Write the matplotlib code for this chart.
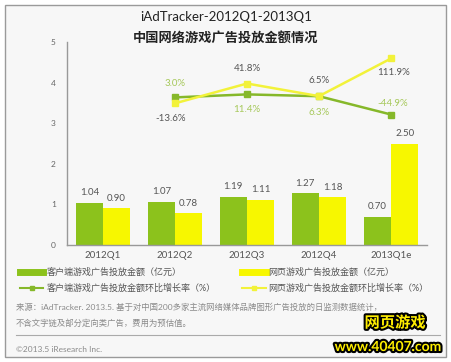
import matplotlib
matplotlib.use("Agg")
import matplotlib.pyplot as plt
import numpy as np
from matplotlib.lines import Line2D
from matplotlib.patches import Rectangle
import matplotlib.patheffects as pe

plt.rcParams['font.family'] = ['Lato', 'Noto Sans CJK SC', 'DejaVu Sans']

categories = ["2012Q1", "2012Q2", "2012Q3", "2012Q4", "2013Q1e"]
client_amt = [1.04, 1.07, 1.19, 1.27, 0.70]
web_amt = [0.90, 0.78, 1.11, 1.18, 2.50]
growth_cats = ["2012Q2", "2012Q3", "2012Q4", "2013Q1e"]
client_growth = [3.0, 11.4, 6.3, -44.9]
web_growth = [-13.6, 41.8, 6.5, 111.9]
yticks = [0, 1, 2, 3, 4, 5]

GREEN = "#8cc21c"
YELLOW = "#f7f700"
GLINE = "#86b82a"
YLINE = "#f2f23a"
DARK = "#555555"
LGREEN = "#a6c85a"
BG = "#f7f7f7"

W, H = 451, 362
fig = plt.figure(figsize=(W / 100, H / 100), dpi=100)
fig.patch.set_facecolor("white")
fig.add_artist(Rectangle((5 / W, 1 - 357 / H), 441 / W, 352 / H, transform=fig.transFigure,
                         facecolor=BG, edgecolor="#9a9a9a", lw=1.0, zorder=-10))

ax = fig.add_axes([67 / W, 1 - 245 / H, 360 / W, 203 / H])
ax.set_facecolor("none")
x = np.arange(len(categories))
bw = 0.38
b1 = ax.bar(x - bw / 2, client_amt, bw, color=GREEN, zorder=2)
b2 = ax.bar(x + bw / 2, web_amt, bw, color=YELLOW, zorder=2)
for xi, v in zip(x, client_amt):
    ax.annotate(f"{v:.2f}", (xi - bw / 2, v), xytext=(0, 4), textcoords="offset points",
                ha="center", va="bottom", fontsize=7, color=DARK)
for xi, v in zip(x, web_amt):
    ax.annotate(f"{v:.2f}", (xi + bw / 2, v), xytext=(0, 4), textcoords="offset points",
                ha="center", va="bottom", fontsize=7, color=DARK)

ax.set_xlim(-0.5, len(categories) - 0.5)
ax.set_ylim(0, 5)
ax.set_yticks(yticks)
ax.set_yticklabels([str(t) for t in yticks], fontsize=6, color="#666666")
ax.set_xticks(x)
ax.set_xticklabels(categories, fontsize=7, color=DARK)
ax.tick_params(axis="both", length=0)
ax.tick_params(axis="x", pad=4)
ax.tick_params(axis="y", pad=8)
for s in ["top", "right"]:
    ax.spines[s].set_visible(False)
for s in ["left", "bottom"]:
    ax.spines[s].set_color("#999999")
    ax.spines[s].set_linewidth(1.0)

ax2 = ax.twinx()
ax2.set_ylim(-410, 158)
ax2.axis("off")
gx = np.array([categories.index(c) for c in growth_cats])
ax2.plot(gx, client_growth, color=GLINE, lw=1.8, marker="s", ms=5, zorder=3)
ax2.plot(gx, web_growth, color=YLINE, lw=1.8, marker="s", ms=5, zorder=4)

c_off = [(0, 10, LGREEN), (0, -11, LGREEN), (0, -11.5, LGREEN), (1, 8, LGREEN)]
w_off = [(-3, -11, DARK), (0, 11, DARK), (0, 11, DARK), (2, -10, DARK)]
for xi, v, (dx, dy, col) in zip(gx, client_growth, c_off):
    ax2.annotate(f"{v:.1f}%", (xi, v), xytext=(dx, dy), textcoords="offset points",
                 ha="center", va="center", fontsize=7, color=col)
for xi, v, (dx, dy, col) in zip(gx, web_growth, w_off):
    ax2.annotate(f"{v:.1f}%", (xi, v), xytext=(dx, dy), textcoords="offset points",
                 ha="center", va="center", fontsize=7, color=col)

fig.text(226 / W, 1 - 17 / H, "iAdTracker-2012Q1-2013Q1", ha="center", va="center",
         fontsize=9.5, color="#222222")
fig.text(226 / W, 1 - 37 / H, "中国网络游戏广告投放金额情况", ha="center", va="center",
         fontsize=9.5, color="#222222", fontweight="bold")

handles = [
    Line2D([], [], color=GREEN, lw=5),
    Line2D([], [], color=GLINE, lw=1.5, marker="s", ms=3.5),
    Line2D([], [], color=YELLOW, lw=5),
    Line2D([], [], color=YLINE, lw=1.5, marker="s", ms=3.5),
]
labels = ["客户端游戏广告投放金额（亿元）", "客户端游戏广告投放金额环比增长率（%）",
          "网页游戏广告投放金额（亿元）", "网页游戏广告投放金额环比增长率（%）"]
fig.legend(handles, labels, ncol=2, loc="upper left", bbox_to_anchor=(20 / W, 1 - 268 / H),
           frameon=False, fontsize=6.5, labelcolor=DARK, handlelength=2.6, handletextpad=0.3,
           columnspacing=3.0, labelspacing=0.75, borderaxespad=0, borderpad=0)

fig.text(16 / W, 1 - 307 / H, "来源：iAdTracker. 2013.5. 基于对中国200多家主流网络媒体品牌图形广告投放的日监测数据统计，",
         ha="left", va="center", fontsize=6, color="#8a8a8a")
fig.text(16 / W, 1 - 323 / H, "不含文字链及部分定向类广告，费用为预估值。",
         ha="left", va="center", fontsize=6, color="#8a8a8a")
fig.add_artist(Line2D([16 / W, 440 / W], [1 - 335 / H, 1 - 335 / H], transform=fig.transFigure,
                      color="#aaaaaa", lw=0.8))
fig.text(16 / W, 1 - 349 / H, "©2013.5 iResearch Inc.", ha="left", va="center",
         fontsize=6, color="#8a8a8a")

fig.text(395 / W, 1 - 323 / H, "网页游戏", ha="center", va="center", fontsize=11,
         fontweight="bold", color="#ffee00",
         path_effects=[pe.withStroke(linewidth=3, foreground="black")])
fig.text(388 / W, 1 - 347 / H, "www.40407.com", ha="center", va="center", fontsize=10,
         fontweight="bold", color="#ffee00",
         path_effects=[pe.withStroke(linewidth=3, foreground="black")])

fig.savefig("out.png", dpi=100, facecolor="white")
